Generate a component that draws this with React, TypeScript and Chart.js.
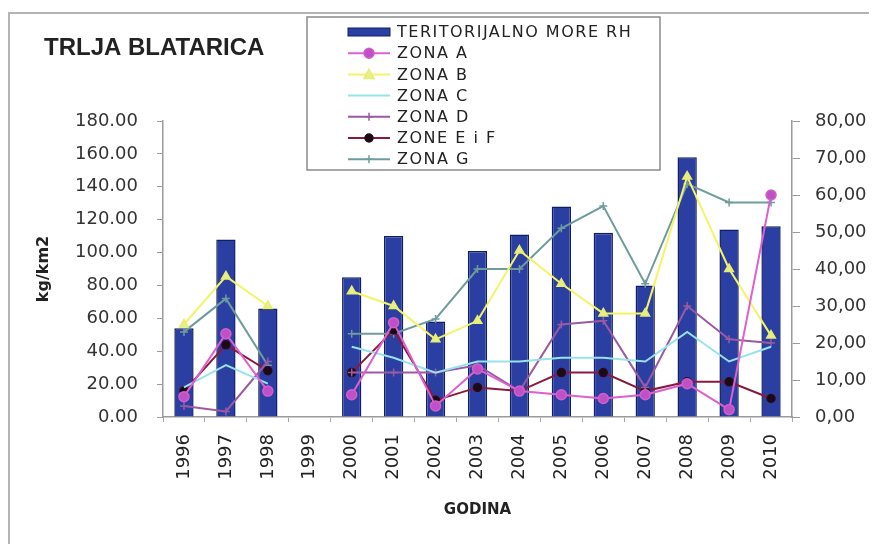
import { useEffect, useRef } from "react";
import { Chart, registerables } from "chart.js";

Chart.register(...registerables);

const years = ["1996", "1997", "1998", "1999", "2000", "2001", "2002", "2003", "2004", "2005", "2006", "2007", "2008", "2009", "2010"];
const teritorijalnoMore = [54, 108, 66, null, 85, 110, 58, 101, 111, 128, 112, 80, 158, 114, 116];
const zonaA = [5.5, 22.5, 7, null, 6, 25.5, 3, 13, 7, 6, 5, 6, 9, 2, 60];
const zonaB = [25, 38, 30, null, 34, 30, 21, 26, 45, 36, 28, 28, 65, 40, 22];
const zonaC = [8, 14, 9, null, 19, 16, 12, 15, 15, 16, 16, 15, 23, 15, 19];
const zonaD = [3, 1.5, 15, null, 12, 12, 12, 14, 7, 25, 26, 8, 30, 21, 20];
const zonaEF = [7, 19.5, 12.5, null, 12, 23.5, 4.5, 8, 7, 12, 12, 7, 9.5, 9.5, 5];
const zonaG = [23, 32, 14, null, 22.5, 22.5, 26.5, 40, 40, 51, 57, 36, 63, 58, 58];

const leftTicks = "180.00";
const titleText = "TRLJA BLATARICA";

const BAR_FILL = "#2B3FA3";
const BAR_BORDER = "#111E66";

function drawMarker(ctx: CanvasRenderingContext2D, style: string, x: number, y: number, r: number, fill: string, stroke: string) {
  ctx.save();
  ctx.fillStyle = fill;
  ctx.strokeStyle = stroke;
  ctx.lineWidth = 1.5;
  ctx.beginPath();
  if (style === "circle") {
    ctx.arc(x, y, r, 0, Math.PI * 2);
    ctx.fill();
    ctx.stroke();
  } else if (style === "triangle") {
    ctx.moveTo(x, y - r);
    ctx.lineTo(x + r, y + r * 0.8);
    ctx.lineTo(x - r, y + r * 0.8);
    ctx.closePath();
    ctx.fill();
    ctx.stroke();
  } else if (style === "cross") {
    ctx.moveTo(x - r, y);
    ctx.lineTo(x + r, y);
    ctx.moveTo(x, y - r);
    ctx.lineTo(x, y + r);
    ctx.stroke();
  }
  ctx.restore();
}

const decorPlugin = {
  id: "decor",
  beforeDraw(chart: any) {
    const ctx = chart.ctx as CanvasRenderingContext2D;
    ctx.save();
    ctx.strokeStyle = "#b4b4b4";
    ctx.lineWidth = 2;
    ctx.strokeRect(1, 5, 862, 600);
    ctx.restore();
  },
  afterDraw(chart: any) {
    const ctx = chart.ctx as CanvasRenderingContext2D;
    ctx.save();
    // title
    ctx.fillStyle = "#222";
    ctx.font = "bold 24px 'Liberation Sans', Arial, sans-serif";
    ctx.textAlign = "left";
    ctx.textBaseline = "alphabetic";
    ctx.fillText(titleText, 36, 47);

    // legend box
    const bx = 299, by = 9, bw = 353, bh = 153;
    ctx.fillStyle = "#ffffff";
    ctx.fillRect(bx, by, bw, bh);
    ctx.strokeStyle = "#8a8a8a";
    ctx.lineWidth = 1.5;
    ctx.strokeRect(bx, by, bw, bh);

    const ds = chart.data.datasets;
    const sx0 = 340, sx1 = 382, tx = 389;
    ds.forEach((d: any, i: number) => {
      const y = 24 + 21.2 * i;
      if (d.type === "bar") {
        ctx.fillStyle = BAR_FILL;
        ctx.fillRect(sx0, y - 4, sx1 - sx0, 8);
        ctx.strokeStyle = BAR_BORDER;
        ctx.lineWidth = 1;
        ctx.strokeRect(sx0, y - 4, sx1 - sx0, 8);
      } else {
        ctx.strokeStyle = d.borderColor;
        ctx.lineWidth = 2;
        ctx.beginPath();
        ctx.moveTo(sx0, y);
        ctx.lineTo(sx1, y);
        ctx.stroke();
        if (d.pointRadius > 0) {
          drawMarker(ctx, d.pointStyle, (sx0 + sx1) / 2, y, d.pointRadius, d.pointBackgroundColor, d.pointBorderColor);
        }
      }
      ctx.fillStyle = "#222";
      ctx.font = "16px 'DejaVu Sans', sans-serif";
      (ctx as any).letterSpacing = "1.5px";
      ctx.textAlign = "left";
      ctx.textBaseline = "middle";
      ctx.fillText(d.label, tx, y + 1);
      (ctx as any).letterSpacing = "0px";
    });
    ctx.restore();
  },
};

function lineDs(label: string, data: (number | null)[], color: string, pointStyle: string, radius: number, pfill: string, pborder: string) {
  return {
    type: "line" as const,
    label,
    data,
    yAxisID: "y1",
    borderColor: color,
    backgroundColor: color,
    borderWidth: 2,
    pointStyle,
    pointRadius: radius,
    pointHoverRadius: radius,
    pointBackgroundColor: pfill,
    pointBorderColor: pborder,
    pointBorderWidth: 1.5,
    spanGaps: false,
    tension: 0,
    order: 1,
  };
}

export default function App() {
  const ref = useRef<HTMLCanvasElement>(null);
  useEffect(() => {
    const tickFont = { family: "'DejaVu Sans', sans-serif", size: 18 };
    const chart = new Chart(ref.current!, {
      type: "bar",
      data: {
        labels: years,
        datasets: [
          {
            type: "bar" as const,
            label: "TERITORIJALNO MORE RH",
            data: teritorijalnoMore,
            yAxisID: "y",
            backgroundColor: BAR_FILL,
            borderColor: BAR_BORDER,
            borderWidth: 1.5,
            categoryPercentage: 1,
            barPercentage: 0.46,
            order: 10,
          },
          lineDs("ZONA A", zonaA, "#DD5FD0", "circle", 5, "#C050C8", "#D060C8"),
          lineDs("ZONA B", zonaB, "#F4F466", "triangle", 5, "#E6F08A", "#E8EC70"),
          lineDs("ZONA C", zonaC, "#98E2EE", "circle", 0, "#98E2EE", "#98E2EE"),
          lineDs("ZONA D", zonaD, "#9A5AA2", "cross", 4, "#9A5AA2", "#9A5AA2"),
          lineDs("ZONE E i F", zonaEF, "#8A1A3C", "circle", 4, "#1a0a14", "#2a0a1a"),
          lineDs("ZONA G", zonaG, "#6E9C9C", "cross", 4, "#6E9C9C", "#6E9C9C"),
        ] as any,
      },
      options: {
        animation: false,
        responsive: true,
        maintainAspectRatio: false,
        layout: { padding: { top: 113, left: 0, right: 0, bottom: 0 } },
        plugins: {
          legend: { display: false },
          title: { display: false },
          tooltip: { enabled: false },
        },
        scales: {
          x: {
            offset: true,
            afterFit: (s: any) => { s.height = 127; },
            grid: { drawOnChartArea: false, drawTicks: true, tickLength: 5, offset: true, color: "#aaaaaa" },
            border: { display: true, color: "#9a9a9a", width: 1.5 },
            ticks: { font: tickFont, color: "#222", minRotation: 90, maxRotation: 90, autoSkip: false, padding: 12 },
            title: {
              display: true,
              text: "GODINA",
              color: "#222",
              font: { family: "'DejaVu Sans', sans-serif", size: 15, weight: "bold" },
              padding: { top: 0, bottom: 25 },
            },
          },
          y: {
            position: "left",
            min: 0,
            max: 180,
            afterFit: (s: any) => { s.width = 155; },
            grid: { drawOnChartArea: false, drawTicks: true, tickLength: 6, color: "#9a9a9a" },
            border: { display: true, color: "#9a9a9a", width: 1.5 },
            ticks: {
              stepSize: 20,
              font: tickFont,
              color: "#333",
              padding: 19,
              callback: (v: any) => Number(v).toFixed(2),
            },
            title: {
              display: true,
              text: "kg/km2",
              color: "#222",
              font: { family: "'DejaVu Sans', sans-serif", size: 16, weight: "bold" },
              padding: { top: 26, bottom: 0 },
            },
          },
          y1: {
            position: "right",
            min: 0,
            max: 80,
            afterFit: (s: any) => { s.width = 85; },
            grid: { drawOnChartArea: false, drawTicks: true, tickLength: 8, color: "#9a9a9a" },
            border: { display: true, color: "#9a9a9a", width: 1.5 },
            ticks: {
              stepSize: 10,
              font: tickFont,
              color: "#333",
              padding: 15,
              callback: (v: any) => Number(v).toFixed(2).replace(".", ","),
            },
          },
        },
      },
      plugins: [decorPlugin],
    });
    return () => chart.destroy();
  }, []);
  return (
    <div style={{ position: "relative", width: 869, height: 536 }}>
      <canvas ref={ref} />
    </div>
  );
}
